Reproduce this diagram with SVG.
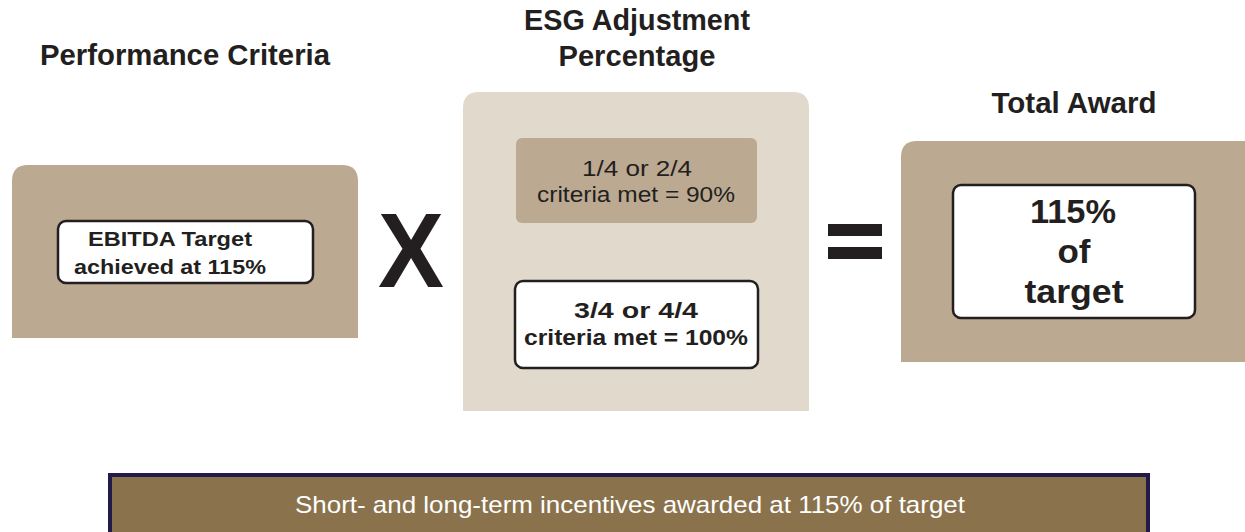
<svg xmlns="http://www.w3.org/2000/svg" width="1245" height="532" viewBox="0 0 1245 532">
<style>
.t{font-family:"Liberation Sans",Arial,sans-serif;fill:#231f20;text-anchor:middle}
.b{font-weight:bold}
.tan{fill:#bba991}
.lt{fill:#e0d9cc}
.wb{fill:#ffffff;stroke:#231f20;stroke-width:2.5}
</style>
<rect width="1245" height="532" fill="#ffffff"/>
<g id="title-performance"><text class="t b" x="185" y="65" font-size="29" textLength="290" lengthAdjust="spacingAndGlyphs">Performance Criteria</text></g>
<g id="title-esg"><text class="t b" x="637" y="30" font-size="29" textLength="226" lengthAdjust="spacingAndGlyphs">ESG Adjustment</text><text class="t b" x="637" y="66" font-size="29" textLength="157" lengthAdjust="spacingAndGlyphs">Percentage</text></g>
<g id="title-total"><text class="t b" x="1074" y="113" font-size="29" textLength="165" lengthAdjust="spacingAndGlyphs">Total Award</text></g>
<g id="node-performance">
<path class="tan" d="M12,338 V181 Q12,165 28,165 H342 Q358,165 358,181 V338 Z"/>
<rect class="wb" x="58" y="221" width="255" height="62" rx="8"/>
<text class="t b" x="170" y="246" font-size="21" textLength="164" lengthAdjust="spacingAndGlyphs">EBITDA Target</text>
<text class="t b" x="170" y="274" font-size="21" textLength="192" lengthAdjust="spacingAndGlyphs">achieved at 115%</text>
</g>
<g id="op-times"><text class="t b" x="411" y="287" font-size="106" textLength="66" lengthAdjust="spacingAndGlyphs">X</text></g>
<g id="node-esg">
<path class="lt" d="M463,411 V108 Q463,92 479,92 H793 Q809,92 809,108 V411 Z"/>
<g id="node-esg-low">
<rect class="tan" x="516" y="138" width="241" height="85" rx="6"/>
<text class="t" x="637" y="176" font-size="22" fill="#333" textLength="110" lengthAdjust="spacingAndGlyphs">1/4 or 2/4</text>
<text class="t" x="636" y="202" font-size="22" textLength="198" lengthAdjust="spacingAndGlyphs">criteria met = 90%</text>
</g>
<g id="node-esg-high">
<rect class="wb" x="515" y="281" width="243" height="87" rx="8"/>
<text class="t b" x="636" y="318" font-size="22" textLength="124" lengthAdjust="spacingAndGlyphs">3/4 or 4/4</text>
<text class="t b" x="636" y="345" font-size="22" textLength="224" lengthAdjust="spacingAndGlyphs">criteria met = 100%</text>
</g>
</g>
<g id="op-equals" fill="#231f20">
<rect x="828" y="224" width="54" height="12"/>
<rect x="828" y="247" width="54" height="12"/>
</g>
<g id="node-total">
<path class="tan" d="M901,362 V157 Q901,141 917,141 H1245 V362 Z"/>
<rect class="wb" x="953" y="185" width="242" height="133" rx="8"/>
<text class="t b" x="1073" y="223" font-size="34" textLength="86" lengthAdjust="spacingAndGlyphs">115%</text>
<text class="t b" x="1074" y="263" font-size="34" textLength="33" lengthAdjust="spacingAndGlyphs">of</text>
<text class="t b" x="1074" y="303" font-size="34" textLength="99" lengthAdjust="spacingAndGlyphs">target</text>
</g>
<g id="node-banner">
<rect x="110" y="475" width="1038" height="60" fill="#8a734c" stroke="#221b47" stroke-width="4"/>
<text class="t" x="630" y="513" font-size="24" style="fill:#ffffff" textLength="670" lengthAdjust="spacingAndGlyphs">Short- and long-term incentives awarded at 115% of target</text>
</g>
<g id="connectors"></g>
</svg>
